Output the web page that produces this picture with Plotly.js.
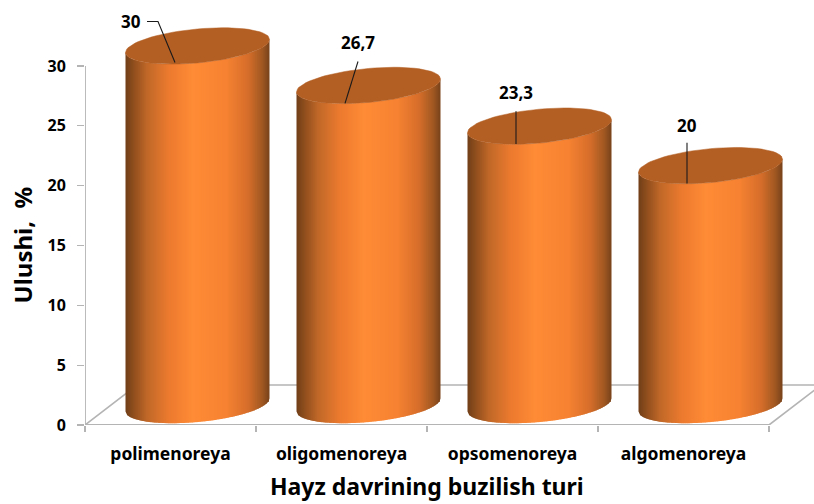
<!DOCTYPE html>
<html>
<head>
<meta charset="utf-8">
<script src="https://cdn.plot.ly/plotly-3.0.1.min.js"></script>
<style>html,body{margin:0;padding:0;background:#fff}</style>
</head>
<body>
<div id="chart" style="width:814px;height:504px"></div>
<script>
// ---- data ----
const categories = ["polimenoreya", "oligomenoreya", "opsomenoreya", "algomenoreya"];
const values = [30, 26.7, 23.3, 20];
const valueLabels = ["30", "26,7", "23,3", "20"];
const yTicks = [0, 5, 10, 15, 20, 25, 30];
const xTitle = "Hayz davrining buzilish turi";
const yTitle = "Ulushi,  %";

// ---- styling / 3-D look ----
const FONT = "'Noto Sans', sans-serif";
const W = 814, H = 504;
const M = {l: 85, r: 0, t: 0, b: 78.5};
const pxX = 171, pxY = 359.5 / 30;           // scale of the visible value axis
const dx = p => p / pxX, dy = p => p / pxY;
const xMax = -0.5 + (W - M.l) / pxX, yMax = (H - M.b) / pxY;
const depthX = dx(27), depthY = dy(20), halfW = dx(72), ellB = dy(17), ellS = dy(6.5);
const gradientStops = [[0,[112,62,24]],[0.05,[140,76,28]],[0.15,[192,104,40]],[0.3,[236,122,46]],
  [0.47,[255,139,54]],[0.7,[246,130,50]],[0.85,[214,110,42]],[0.95,[160,88,34]],[1,[118,66,26]]];
const topColor = "#b35e23";
const gridGray = "#b4b4b4";
function gradient(t){
  for(let i=1;i<gradientStops.length;i++){
    const [a,ca]=gradientStops[i-1],[b,cb]=gradientStops[i];
    if(t<=b){const f=(t-a)/(b-a);return "rgb("+ca.map((c,k)=>Math.round(c+(cb[k]-c)*f)).join(",")+")";}
  }
  return "rgb(118,66,26)";
}
// leader line / label offsets in px relative to category position and value
const leaderPaths = [
  [[4.5,3.4],[-12.5,44.4],[-23.5,44.4]],
  [[3.5,2],[16.5,44]],
  [[3.5,2],[3.5,35]],
  [[3.5,2],[3.5,43]]
];
const labelOffsets = [[-39.5,44.4],[16.5,63],[3.5,54],[3.5,60]];

const traces = [];
function line(xs, ys, color, width){
  traces.push({type:"scatter",mode:"lines",x:xs,y:ys,hoverinfo:"skip",showlegend:false,
    line:{color:color,width:width}});
}
// floor (3-D wall base) and axis lines
const floorDX = dx(52), floorDY = dy(40);
line([-0.5,-0.5+floorDX,3.5+floorDX,3.5],[0,floorDY,floorDY,0],gridGray,1.6);
line([-0.5,-0.5],[0,30],gridGray,1.8);
line([-0.5,3.5],[0,0],gridGray,1.8);

const N = 72;
values.forEach((v,i)=>{
  const cx = i + depthX, cyTop = v + depthY, cyBot = depthY;
  for(let k=0;k<N;k++){
    const u0=-1+2*k/N, u1=Math.min(1,-1+2*(k+1.6)/N), um=(u0+u1)/2;
    const front=u=>ellB*Math.sqrt(Math.max(0,1-u*u));
    const us=[u0,um,u1];
    const xs=us.map(u=>cx+halfW*u), top=us.map(u=>cyTop+ellS*u-front(u)), bot=us.map(u=>cyBot+ellS*u-front(u));
    traces.push({type:"scatter",mode:"lines",hoverinfo:"skip",showlegend:false,
      x:xs.concat(xs.slice().reverse(),[xs[0]]),
      y:top.concat(bot.slice().reverse(),[top[0]]),
      fill:"toself",fillcolor:gradient((k+0.5)/N),line:{width:0,color:"rgba(0,0,0,0)"}});
  }
  const ex=[],ey=[];
  for(let a=0;a<=72;a++){
    const t=a/72*2*Math.PI;
    ex.push(cx+halfW*Math.cos(t));
    ey.push(cyTop+ellS*Math.cos(t)+ellB*Math.sin(t));
  }
  traces.push({type:"scatter",mode:"lines",hoverinfo:"skip",showlegend:false,x:ex,y:ey,
    fill:"toself",fillcolor:topColor,line:{width:0.5,color:topColor}});
  line(leaderPaths[i].map(p=>i+dx(p[0])),leaderPaths[i].map(p=>v+dy(p[1])),"#1a1a1a",1.1);
});
// category tick labels
traces.push({type:"scatter",mode:"markers",x:categories,y:values,xaxis:"x2",marker:{opacity:0,size:1},
  hoverinfo:"skip",showlegend:false});

const annotations = values.map((v,i)=>({
  xref:"x",yref:"y",x:i+dx(labelOffsets[i][0]),y:v+dy(labelOffsets[i][1]),text:"<b>"+valueLabels[i]+"</b>",
  showarrow:false,xanchor:"center",yanchor:"middle",font:{family:FONT,size:17,color:"#000"}
}));
// axis titles are centred on the visible axes, not on the extended plot area
annotations.push({xref:"x",yref:"paper",x:1.5,y:-61.5/(H-M.b),text:"<b>"+xTitle+"</b>",showarrow:false,
  xanchor:"center",yanchor:"middle",font:{family:FONT,size:23,color:"#000"}});
annotations.push({xref:"paper",yref:"y",x:-63/(W-M.l),y:15,text:"<b>"+yTitle+"</b>",showarrow:false,textangle:-90,
  xanchor:"center",yanchor:"middle",font:{family:FONT,size:24,color:"#000"}});

const layout = {
  width:W,height:H,margin:M,paper_bgcolor:"#fff",plot_bgcolor:"#fff",showlegend:false,hovermode:false,
  annotations,
  xaxis:{type:"linear",range:[-0.5,xMax],tickmode:"array",tickvals:[-0.5,0.5,1.5,2.5,3.5],ticktext:["","","","",""],
    ticks:"outside",ticklen:6,tickcolor:gridGray,tickwidth:1.2,showline:false,
    showgrid:false,zeroline:false,automargin:false},
  xaxis2:{type:"category",categoryorder:"array",categoryarray:categories,range:[-0.5,xMax],overlaying:"x",anchor:"y",side:"bottom",
    ticks:"",showline:false,showgrid:false,zeroline:false,ticklabelstandoff:16,
    tickfont:{family:FONT,size:17.5,color:"#000",weight:"bold"}},
  yaxis:{range:[0,yMax],tickmode:"array",tickvals:yTicks,ticks:"outside",ticklen:7,tickcolor:gridGray,tickwidth:1.2,
    showline:false,showgrid:false,zeroline:false,ticklabelstandoff:8,
    tickfont:{family:FONT,size:16,color:"#000",weight:"bold"},automargin:false}
};
Plotly.newPlot("chart",traces,layout,{staticPlot:true,displayModeBar:false});
</script>
</body>
</html>
